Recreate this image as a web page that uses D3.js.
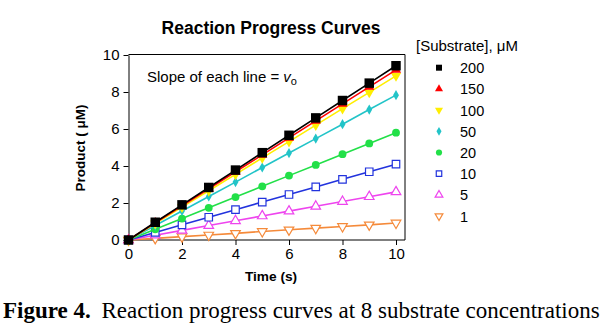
<!DOCTYPE html>
<html><head><meta charset="utf-8">
<script src="https://cdn.jsdelivr.net/npm/d3@7"></script>
<style>body{margin:0;background:#fff}svg{display:block}</style>
</head><body><svg id="c" width="615" height="336"></svg>
<script>
const time = [0,1,2,3,4,5,6,7,8,9,10];
const concentrations = ["200","150","100","50","20","10","5","1"];
const s200 = [0,0.96,1.90,2.84,3.78,4.72,5.66,6.60,7.54,8.48,9.42];
const s150 = [0,0.93,1.85,2.77,3.69,4.60,5.52,6.44,7.36,8.28,9.20];
const s100 = [0,0.89,1.78,2.66,3.55,4.44,5.32,6.21,7.10,7.98,8.87];
const s50  = [0,0.78,1.57,2.35,3.13,3.92,4.70,5.48,6.26,7.05,7.83];
const s20  = [0,0.58,1.16,1.74,2.32,2.90,3.48,4.06,4.64,5.22,5.80];
const s10  = [0,0.41,0.82,1.23,1.64,2.05,2.46,2.87,3.28,3.69,4.10];
const s5   = [0,0.26,0.52,0.78,1.04,1.30,1.56,1.82,2.08,2.34,2.60];
const s1   = [0,0.09,0.18,0.27,0.36,0.46,0.55,0.64,0.73,0.82,0.92];
const xTicks = [0,2,4,6,8,10];
const yTicks = [0,2,4,6,8,10];

const seriesValues = [s200,s150,s100,s50,s20,s10,s5,s1];
const colors = ["#000000","#ff0000","#ffee00","#22c4c8","#22e048","#2233dd","#ee44ee","#f58a3a"];
const shapes = ["square","tri","tridown","diamond","circle","square","tri","tridown"];
const filled = [true,true,true,true,true,false,false,false];
const plotSize = [90,45,45,30,48,56,40,40];
const legSize = [36,28,28,22,30,30,26,26];

const svg = d3.select("#c");
const F = "Liberation Sans, Arial, sans-serif";
const x = d3.scaleLinear().domain([0,10]).range([128.5,396]);
const y = d3.scaleLinear().domain([0,10]).range([240,55]);

function symPath(shape,size){
  const t = {square:d3.symbolSquare,tri:d3.symbolTriangle,tridown:d3.symbolTriangle,diamond:d3.symbolDiamond,circle:d3.symbolCircle}[shape];
  return d3.symbol().type(t).size(size)();
}
function drawSym(g,i,cx,cy,size){
  const p = g.append("path").attr("d",symPath(shapes[i],size))
    .attr("transform",`translate(${cx},${cy})`+(shapes[i]==="tridown"?" rotate(180)":""));
  if(filled[i]) p.attr("fill",colors[i]).attr("stroke","none");
  else p.attr("fill","#fff").attr("stroke",colors[i]).attr("stroke-width",1.2);
}

// frame
svg.append("line").attr("x1",128.5).attr("x2",405).attr("y1",54.5).attr("y2",54.5).attr("stroke","#000");
svg.append("line").attr("x1",405).attr("x2",405).attr("y1",54.5).attr("y2",240).attr("stroke","#000");

// axes
const xa = svg.append("g").attr("transform","translate(0,240)")
  .call(d3.axisBottom(x).tickValues(xTicks).tickSize(5).tickPadding(3).tickSizeOuter(0));
xa.select(".domain").attr("d","M128.5,0H405");
const ya = svg.append("g").attr("transform","translate(128.5,0)")
  .call(d3.axisLeft(y).tickValues(yTicks).tickSize(5).tickPadding(4).tickSizeOuter(0));
[xa,ya].forEach(a=>{a.selectAll("text").attr("font-family",F).attr("font-size",15).attr("fill","#000");
  a.selectAll("line,path").attr("stroke","#000");});

// series (lowest first so black is on top)
const line = d3.line().x((d,j)=>x(time[j])).y(d=>y(d));
for(let i=seriesValues.length-1;i>=0;i--){
  const g = svg.append("g");
  g.append("path").attr("d",line(seriesValues[i])).attr("fill","none").attr("stroke",colors[i]).attr("stroke-width",1.6);
  seriesValues[i].forEach((v,j)=>drawSym(g,i,x(time[j]),y(v),plotSize[i]));
}

// title & labels
svg.append("text").attr("x",271).attr("y",33.5).attr("text-anchor","middle").attr("font-family",F)
  .attr("font-weight","bold").attr("font-size",17.5).text("Reaction Progress Curves");
svg.append("text").attr("transform","translate(85,148) rotate(-90)").attr("text-anchor","middle")
  .attr("font-family",F).attr("font-weight","bold").attr("font-size",13.5).text("Product ( μM)");
svg.append("text").attr("x",271).attr("y",281).attr("text-anchor","middle").attr("font-family",F)
  .attr("font-weight","bold").attr("font-size",13.7).text("Time (s)");
const ann = svg.append("text").attr("x",147).attr("y",82).attr("font-family",F).attr("font-size",15);
ann.append("tspan").text("Slope of each line = ");
ann.append("tspan").attr("font-style","italic").text("v");
ann.append("tspan").attr("font-size",11).attr("dy",3).text("o");

// legend
svg.append("text").attr("x",416).attr("y",51).attr("font-family",F).attr("font-size",15).text("[Substrate], μM");
concentrations.forEach((c,i)=>{
  const cy = 67.7 + i*21.2;
  drawSym(svg,i,439,cy,legSize[i]);
  svg.append("text").attr("x",460).attr("y",cy+5.5).attr("font-family",F).attr("font-size",14.5).text(c);
});

// caption
const cap = svg.append("text").attr("x",3).attr("y",318).attr("font-family","Liberation Serif, Times New Roman, serif").attr("font-size",23);
cap.append("tspan").attr("font-weight","bold").text("Figure 4.");
cap.append("tspan").attr("dx",5).text("\u00a0Reaction progress curves at 8 substrate concentrations");
</script></body></html>
